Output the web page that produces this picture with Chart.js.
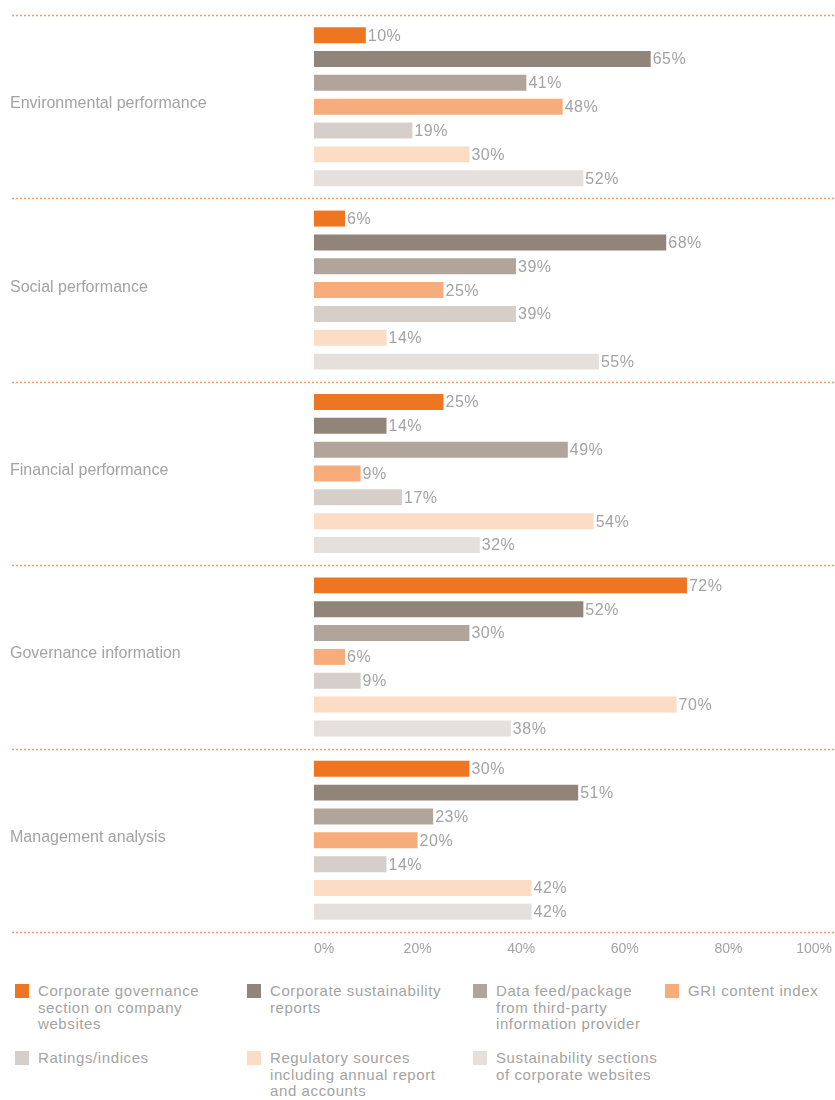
<!DOCTYPE html>
<html>
<head>
<meta charset="utf-8">
<script src="https://cdn.jsdelivr.net/npm/chart.js@4"></script>
<style>
    body { margin: 0; background: #fff; font-family: "Liberation Sans", Arial, sans-serif; }
    #wrap { position: relative; width: 835px; height: 1100px; }
    #chartBox { position: absolute; left: 0; top: 0; width: 835px; height: 960px; }
    .leg { position: absolute; font-size: 15px; line-height: 16.5px; color: #a3a3a3; letter-spacing: 0.6px; }
    .leg i { position: absolute; left: -23px; top: 1px; width: 14px; height: 14px; }
</style>
</head>
<body>
<div id="wrap">
    <div id="chartBox"><canvas id="chart"></canvas></div>
    <div id="legend"></div>
</div>
<script>
// categorias y series
const categories = ["Environmental performance", "Social performance", "Financial performance", "Governance information", "Management analysis"];
const seriesNames = [
    "Corporate governance section on company websites",
    "Corporate sustainability reports",
    "Data feed/package from third-party information provider",
    "GRI content index",
    "Ratings/indices",
    "Regulatory sources including annual report and accounts",
    "Sustainability sections of corporate websites"
];
const legendLines = [
    ["Corporate governance", "section on company", "websites"],
    ["Corporate sustainability", "reports"],
    ["Data feed/package", "from third-party", "information provider"],
    ["GRI content index"],
    ["Ratings/indices"],
    ["Regulatory sources", "including annual report", "and accounts"],
    ["Sustainability sections", "of corporate websites"]
];
const seriesColors = ["#ee7623", "#918579", "#b1a59b", "#f6ad7b", "#d6cfc9", "#fcdcc4", "#e5e0dc"];

const governanceSection = [10, 6, 25, 72, 30];
const sustainabilityReports = [65, 68, 14, 52, 51];
const dataFeed = [41, 39, 49, 30, 23];
const griIndex = [48, 25, 9, 6, 20];
const ratings = [19, 39, 17, 9, 14];
const regulatory = [30, 14, 54, 70, 42];
const sustainabilitySections = [52, 55, 32, 38, 42];
const xTicks = [0, 20, 40, 60, 80, 100];

const seriesValues = [governanceSection, sustainabilityReports, dataFeed, griIndex, ratings, regulatory, sustainabilitySections];

const grey = "#a3a3a3";
const fontFam = "'Liberation Sans', Arial, sans-serif";

// lineas punteadas entre grupos
const separators = {
    id: "separators",
    afterDraw(chart) {
        const y = chart.scales.y;
        const ctx = chart.ctx;
        const h = (y.bottom - y.top) / categories.length;
        ctx.save();
        ctx.strokeStyle = "#ec9d6a";
        ctx.lineWidth = 1.5;
        ctx.setLineDash([2, 2]);
        for (let i = 0; i <= categories.length; i++) {
            const py = Math.round(y.top + i * h) + 0.5;
            ctx.beginPath();
            ctx.moveTo(12, py);
            ctx.lineTo(chart.width, py);
            ctx.stroke();
        }
        ctx.restore();
    }
};

// etiquetas de valor
const valueLabels = {
    id: "valueLabels",
    afterDatasetsDraw(chart) {
        const ctx = chart.ctx;
        ctx.save();
        ctx.font = "16px " + fontFam;
        ctx.letterSpacing = "0.5px";
        ctx.fillStyle = grey;
        ctx.textBaseline = "middle";
        ctx.textAlign = "left";
        chart.data.datasets.forEach((ds, i) => {
            chart.getDatasetMeta(i).data.forEach((bar, j) => {
                ctx.fillText(ds.data[j] + "%", bar.x + 2, bar.y + 1);
            });
        });
        ctx.restore();
    }
};

new Chart(document.getElementById("chart"), {
    type: "bar",
    data: {
        labels: categories,
        datasets: seriesValues.map((vals, i) => ({
            label: seriesNames[i],
            data: vals,
            backgroundColor: seriesColors[i],
            borderWidth: 0,
            categoryPercentage: 0.91,
            barPercentage: 0.67
        }))
    },
    options: {
        indexAxis: "y",
        responsive: true,
        maintainAspectRatio: false,
        animation: false,
        layout: { padding: { top: 15, left: 10, right: 3, bottom: 0 } },
        plugins: { legend: { display: false }, tooltip: { enabled: false } },
        scales: {
            x: {
                min: 0,
                max: 100,
                afterBuildTicks: (s) => { s.ticks = xTicks.map(v => ({ value: v })); },
                afterFit: (s) => { s.height = 28; },
                grid: { display: false },
                border: { display: false },
                ticks: {
                    align: "inner",
                    maxRotation: 0,
                    padding: 1,
                    color: grey,
                    font: { family: fontFam, size: 14 },
                    callback: v => v + "%"
                }
            },
            y: {
                afterFit: (s) => { s.width = 304; },
                grid: { display: false },
                border: { display: false },
                ticks: {
                    crossAlign: "far",
                    labelOffset: -3,
                    color: grey,
                    font: { family: fontFam, size: 16 }
                }
            }
        }
    },
    plugins: [separators, valueLabels]
});

// leyenda html
const legendPos = [[38, 983], [270, 983], [496, 983], [688, 983], [38, 1050], [270, 1050], [496, 1050]];
const legendEl = document.getElementById("legend");
legendLines.forEach((lines, i) => {
    const d = document.createElement("div");
    d.className = "leg";
    d.style.left = legendPos[i][0] + "px";
    d.style.top = legendPos[i][1] + "px";
    d.innerHTML = '<i style="background:' + seriesColors[i] + '"></i>' + lines.join("<br>");
    legendEl.appendChild(d);
});
</script>
</body>
</html>
